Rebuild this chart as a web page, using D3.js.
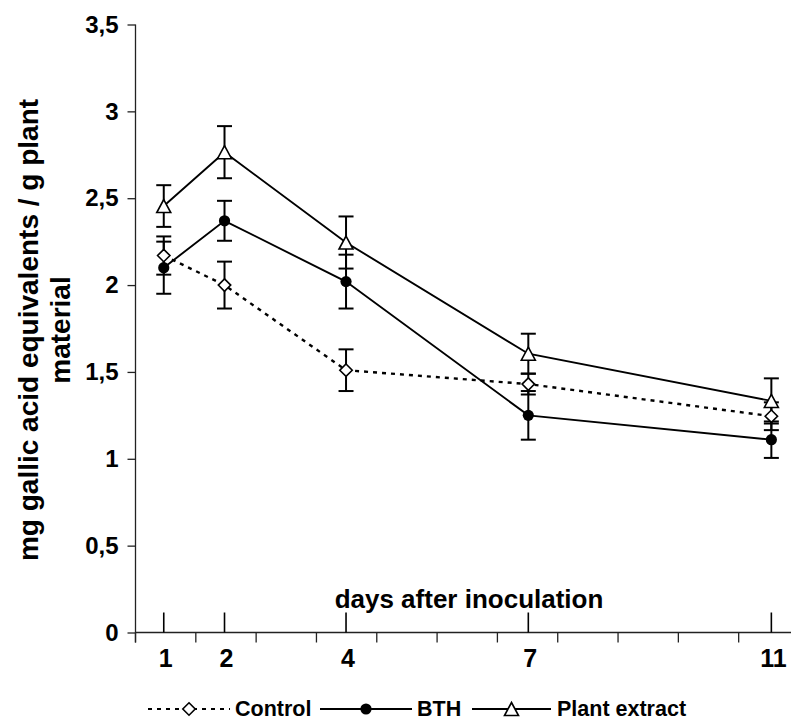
<!DOCTYPE html>
<html>
<head>
<meta charset="utf-8">
<script src="https://cdn.jsdelivr.net/npm/d3@7"></script>
<style>
  html, body { margin: 0; padding: 0; background: #fff; }
  svg { display: block; }
  text { font-family: "Liberation Sans", Arial, sans-serif; font-weight: bold; fill: #000; }
</style>
</head>
<body>
<svg id="chart" width="791" height="722"></svg>
<script>
// ---- data ----
const days = [1, 2, 4, 7, 11];
const dayLabels = ["1", "2", "4", "7", "11"];
const controlMean = [2.17, 2.00, 1.51, 1.43, 1.245];
const controlErr  = [0.11, 0.135, 0.12, 0.06, 0.08];
const bthMean     = [2.10, 2.37, 2.02, 1.25, 1.11];
const bthErr      = [0.15, 0.115, 0.155, 0.14, 0.105];
const plantMean   = [2.455, 2.765, 2.245, 1.605, 1.333];
const plantErr    = [0.12, 0.15, 0.15, 0.115, 0.13];
const yTicks = [0, 0.5, 1, 1.5, 2, 2.5, 3, 3.5];
const yTickLabels = ["0", "0,5", "1", "1,5", "2", "2,5", "3", "3,5"];
const seriesNames = ["Control", "BTH", "Plant extract"];

(function () {
const series = [
  { name: seriesNames[0], mean: controlMean, err: controlErr, marker: "diamond", dash: "4,5" },
  { name: seriesNames[1], mean: bthMean, err: bthErr, marker: "circle", dash: null },
  { name: seriesNames[2], mean: plantMean, err: plantErr, marker: "triangle", dash: null }
];

const svg = d3.select("#chart");

// plot geometry
const pL = 135.5, pR = 799, pT = 24.5, pB = 632.5;
const xMin = 0.535, xMax = 11.455;
const x = d3.scaleLinear().domain([xMin, xMax]).range([pL, pR]);
const y = d3.scaleLinear().domain([0, 3.5]).range([pB, pT]);

// axes lines
const axisColor = "#222";
svg.append("line").attr("x1", pL).attr("x2", pL).attr("y1", pT).attr("y2", pB + 10)
  .attr("stroke", axisColor).attr("stroke-width", 1.3);
svg.append("line").attr("x1", pL).attr("x2", 791).attr("y1", pB).attr("y2", pB)
  .attr("stroke", axisColor).attr("stroke-width", 1.3);

// y ticks
const yAxis = d3.axisLeft(y).tickValues(yTicks).tickSize(8).tickPadding(9)
  .tickFormat((d, i) => yTickLabels[i]);
const yg = svg.append("g").attr("transform", `translate(${pL},0)`).call(yAxis);
yg.select(".domain").remove();
yg.selectAll(".tick line").attr("stroke", axisColor).attr("stroke-width", 1.3);
yg.selectAll(".tick text").attr("font-size", 24).attr("font-family", "Liberation Sans, Arial, sans-serif")
  .attr("font-weight", "bold").attr("fill", "#000");

// minor x ticks (downward), 11 intervals
const minorTicks = d3.range(0, 12).map(k => xMin + k * (xMax - xMin) / 11);
svg.append("g").selectAll("line").data(minorTicks).join("line")
  .attr("x1", d => x(d)).attr("x2", d => x(d)).attr("y1", pB).attr("y2", pB + 10)
  .attr("stroke", axisColor).attr("stroke-width", 1.3);

// major x ticks (upward) at days
svg.append("g").selectAll("line").data(days).join("line")
  .attr("x1", d => x(d)).attr("x2", d => x(d)).attr("y1", pB).attr("y2", pB - 20)
  .attr("stroke", "#000").attr("stroke-width", 1.6);
svg.append("g").selectAll("text").data(days).join("text")
  .attr("x", d => x(d) + 2).attr("y", 667).attr("text-anchor", "middle")
  .attr("font-size", 25).text((d, i) => dayLabels[i]);

// series lines
const line = d3.line().x(d => x(d[0])).y(d => y(d[1]));
series.forEach(s => {
  const pts = days.map((d, i) => [d, s.mean[i]]);
  svg.append("path").datum(pts).attr("d", line).attr("fill", "none")
    .attr("stroke", "#000").attr("stroke-width", s.dash ? 2.4 : 1.9)
    .attr("stroke-dasharray", s.dash);
});

// error bars
series.forEach(s => {
  const g = svg.append("g");
  days.forEach((d, i) => {
    const cx = x(d), y1 = y(s.mean[i] + s.err[i]), y2 = y(s.mean[i] - s.err[i]);
    g.append("line").attr("x1", cx).attr("x2", cx).attr("y1", y1).attr("y2", y2)
      .attr("stroke", "#000").attr("stroke-width", 2);
    [y1, y2].forEach(yy => g.append("line").attr("x1", cx - 7.5).attr("x2", cx + 7.5)
      .attr("y1", yy).attr("y2", yy).attr("stroke", "#000").attr("stroke-width", 2));
  });
});

// markers
function drawMarker(g, type, cx, cy) {
  if (type === "circle") {
    g.append("circle").attr("cx", cx).attr("cy", cy).attr("r", 5.6).attr("fill", "#000");
  } else if (type === "diamond") {
    const r = 6.2;
    g.append("path").attr("d", `M${cx},${cy - r}L${cx + r},${cy}L${cx},${cy + r}L${cx - r},${cy}Z`)
      .attr("fill", "#fff").attr("stroke", "#000").attr("stroke-width", 1.6);
  } else {
    const w = 7, h = 6.5;
    g.append("path").attr("d", `M${cx},${cy - h}L${cx + w},${cy + h}L${cx - w},${cy + h}Z`)
      .attr("fill", "#fff").attr("stroke", "#000").attr("stroke-width", 1.6);
  }
}
series.forEach(s => {
  const g = svg.append("g");
  days.forEach((d, i) => drawMarker(g, s.marker, x(d), y(s.mean[i])));
});

// axis titles
svg.append("text").attr("x", 469).attr("y", 608).attr("text-anchor", "middle")
  .attr("font-size", 26).text("days after inoculation");
const yt = svg.append("text").attr("transform", "translate(0,330) rotate(-90)")
  .attr("text-anchor", "middle").attr("font-size", 28);
yt.append("tspan").attr("x", 0).attr("y", 38).text("mg gallic acid equivalents / g plant");
yt.append("tspan").attr("x", 0).attr("y", 70).text("material");

// legend
const legY = 709;
const legendItems = [
  { s: series[0], x0: 148, x1: 230, tx: 235 },
  { s: series[1], x0: 320, x1: 412, tx: 417 },
  { s: series[2], x0: 472, x1: 551, tx: 557 }
];
legendItems.forEach(it => {
  const g = svg.append("g");
  g.append("line").attr("x1", it.x0).attr("x2", it.x1).attr("y1", legY).attr("y2", legY)
    .attr("stroke", "#000").attr("stroke-width", it.s.dash ? 2 : 1.8)
    .attr("stroke-dasharray", it.s.dash ? "4,5" : null);
  drawMarker(g, it.s.marker, (it.x0 + it.x1) / 2, legY);
  g.append("text").attr("x", it.tx).attr("y", legY + 7).attr("font-size", 21.5).text(it.s.name);
});
})();
</script>
</body>
</html>
